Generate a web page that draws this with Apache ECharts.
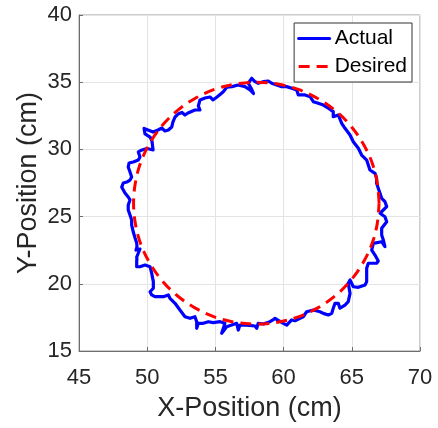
<!DOCTYPE html>
<html><head><meta charset="utf-8">
<script src="https://cdn.jsdelivr.net/npm/echarts@6/dist/echarts.min.js"></script>
<style>html,body{margin:0;padding:0;background:#fff}#c{width:438px;height:428px}</style>
</head><body><div id="c"></div>
<script>
const xTicks = [45, 50, 55, 60, 65, 70];
const yTicks = [15, 20, 25, 30, 35, 40];
const xTitle = 'X-Position (cm)';
const yTitle = 'Y-Position (cm)';
const seriesNames = ['Actual', 'Desired'];

// measured trajectory (x cm, y cm)
const actualPoints = [
[49.25,21.77],[49.23,21.99],[49.35,22.29],[49.47,22.59],[49.18,22.51],[49.25,22.74],[49.23,23.04],[49.11,23.41],
[48.98,23.85],[48.86,24.38],[48.86,24.75],[48.74,25.12],[48.61,25.49],[48.61,25.86],[48.74,26.24],[48.61,26.46],
[48.37,26.76],[48.25,26.98],[48.13,27.20],[48.25,27.50],[48.50,27.57],[48.74,27.72],[48.86,27.95],[48.74,28.32],
[48.61,28.69],[48.67,28.99],[48.98,29.06],[49.35,29.21],[49.47,29.43],[49.35,29.81],[49.62,29.96],[49.99,30.07],
[50.43,29.96],[50.35,30.63],[50.21,30.92],[49.84,31.15],[49.77,31.56],[50.06,31.44],[50.43,31.29],[50.79,31.44],
[51.08,31.59],[51.30,31.37],[51.55,31.44],[51.80,31.67],[51.89,32.04],[52.04,32.41],[52.26,32.63],[52.55,32.75],
[52.77,32.56],[52.99,32.71],[53.50,32.93],[53.87,32.93],[53.75,33.23],[53.87,33.68],[54.24,33.82],[54.60,33.90],
[54.82,33.68],[55.12,33.90],[55.56,34.27],[55.85,34.64],[56.22,34.67],[56.66,34.79],[57.17,34.67],[57.54,34.42],
[57.79,34.16],[57.61,34.57],[57.41,34.92],[57.66,35.29],[57.90,35.04],[58.14,34.92],[58.51,35.04],[58.88,35.09],
[59.13,34.92],[59.49,34.79],[59.86,34.67],[60.23,34.67],[60.59,34.55],[60.96,34.42],[61.08,34.05],[61.57,34.05],
[61.94,33.92],[62.18,33.55],[62.54,33.43],[62.91,33.30],[63.28,33.06],[63.64,32.81],[63.64,32.43],[64.01,32.56],
[64.26,31.94],[64.50,31.57],[64.87,31.07],[65.11,30.57],[65.48,30.08],[65.72,29.58],[66.09,29.21],[66.21,28.84],
[66.33,28.47],[66.70,28.22],[66.82,27.85],[66.82,27.48],[66.94,27.11],[67.07,26.73],[67.19,26.36],[67.43,26.11],
[67.56,25.74],[67.31,25.49],[67.07,25.25],[67.43,24.99],[67.56,24.62],[67.19,24.13],[67.19,23.63],[67.31,23.26],
[67.43,22.76],[67.19,23.13],[66.58,23.01],[66.46,22.51],[66.70,22.14],[66.94,21.70],[66.82,21.53],[66.46,21.53],
[66.21,21.53],[66.09,21.15],[66.09,20.16],[65.97,19.91],[65.48,19.74],[65.11,19.78],[64.87,20.28],[64.74,20.04],
[64.87,19.29],[64.74,18.67],[64.50,18.42],[64.13,18.18],[64.01,18.55],[63.77,18.55],[63.64,18.18],[63.53,17.80],
[63.28,17.68],[62.91,17.80],[62.67,17.92],[62.18,18.05],[61.69,17.92],[61.44,17.55],[61.20,17.43],[60.84,17.25],
[60.59,17.31],[60.47,17.18],[60.23,16.93],[59.98,17.06],[59.37,17.43],[59.22,17.31],[59.00,17.18],[58.51,17.01],
[58.14,17.06],[58.03,16.69],[57.90,16.86],[57.29,16.93],[56.80,16.93],[56.68,16.56],[56.56,17.06],[56.19,16.93],
[55.83,16.81],[55.46,16.32],[55.70,17.06],[55.34,17.18],[54.85,17.11],[54.48,17.18],[54.11,17.06],[53.75,17.06],
[53.63,16.69],[53.63,17.18],[53.50,17.55],[53.14,17.43],[52.77,17.55],[52.40,18.05],[52.04,18.55],[51.67,18.92],
[51.55,19.17],[51.18,19.04],[50.57,19.04],[50.33,19.17],[50.21,19.41],[50.45,19.67],[50.45,20.16],[50.33,20.78],
[50.21,21.27],[49.84,21.40],[49.47,21.27],[49.23,21.27],[49.23,21.77]
];

// desired circular path (x cm, y cm)
const desiredPoints = [
[67.00,26.00],[66.86,27.56],[66.46,29.08],[65.79,30.50],[64.89,31.79],[63.79,32.89],[62.50,33.79],[61.08,34.46],
[59.56,34.86],[58.00,35.00],[56.44,34.86],[54.92,34.46],[53.50,33.79],[52.21,32.89],[51.11,31.79],[50.21,30.50],
[49.54,29.08],[49.14,27.56],[49.00,26.00],[49.14,24.44],[49.54,22.92],[50.21,21.50],[51.11,20.21],[52.21,19.11],
[53.50,18.21],[54.92,17.54],[56.44,17.14],[58.00,17.00],[59.56,17.14],[61.08,17.54],[62.50,18.21],[63.79,19.11],
[64.89,20.21],[65.79,21.50],[66.46,22.92],[66.86,24.44],[67.00,26.00]
];

const FONT = "'Liberation Sans', Arial, Helvetica, sans-serif";
const chart = echarts.init(document.getElementById('c'), null, {renderer: 'canvas'});

function axisCommon(ticks, name) {
  return {
    type: 'value',
    min: ticks[0],
    max: ticks[ticks.length - 1],
    interval: ticks[1] - ticks[0],
    name: name,
    nameLocation: 'middle',
    nameMoveOverlap: false,
    nameTextStyle: {fontFamily: FONT, fontSize: 27, color: '#262626'},
    axisLine: {show: true, onZero: false, lineStyle: {color: '#6e6e6e', width: 1}},
    axisTick: {show: true, inside: true, length: 4, lineStyle: {color: '#6e6e6e'}},
    axisLabel: {fontFamily: FONT, fontSize: 22, color: '#262626'},
    splitLine: {show: true, lineStyle: {color: '#e4e4e4', width: 1}}
  };
}

const xAxis = axisCommon(xTicks, xTitle);
xAxis.nameGap = 44;
xAxis.axisLabel.margin = 16;
const yAxis = axisCommon(yTicks, yTitle);
yAxis.nameGap = 37;
yAxis.axisLabel.margin = 7;

chart.setOption({
  animation: false,
  backgroundColor: '#ffffff',
  grid: {left: 79, top: 15, right: 18, bottom: 77, show: true, borderColor: '#9a9a9a', borderWidth: 1, backgroundColor: 'transparent'},
  xAxis: xAxis,
  yAxis: yAxis,
  legend: {
    orient: 'vertical',
    right: 26, top: 23,
    padding: [5, 5, 5, 3],
    itemWidth: 31, itemHeight: 20, itemGap: 7,
    backgroundColor: '#ffffff',
    borderColor: '#333333', borderWidth: 1,
    itemStyle: {opacity: 0},
    lineStyle: {width: 3},
    textStyle: {fontFamily: FONT, fontSize: 21, color: '#000000'},
    data: seriesNames
  },
  series: [
    {
      name: seriesNames[0], type: 'line', data: actualPoints,
      showSymbol: false, symbol: 'none',
      lineStyle: {color: '#0000ff', width: 3.2, cap: 'round', join: 'round'},
      itemStyle: {color: '#0000ff'},
      z: 2
    },
    {
      name: seriesNames[1], type: 'line', data: desiredPoints,
      showSymbol: false, symbol: 'none', smooth: 0.35,
      lineStyle: {color: '#ff0000', width: 3, type: [11, 7]},
      itemStyle: {color: '#ff0000'},
      z: 3
    }
  ]
});
</script>
</body></html>
